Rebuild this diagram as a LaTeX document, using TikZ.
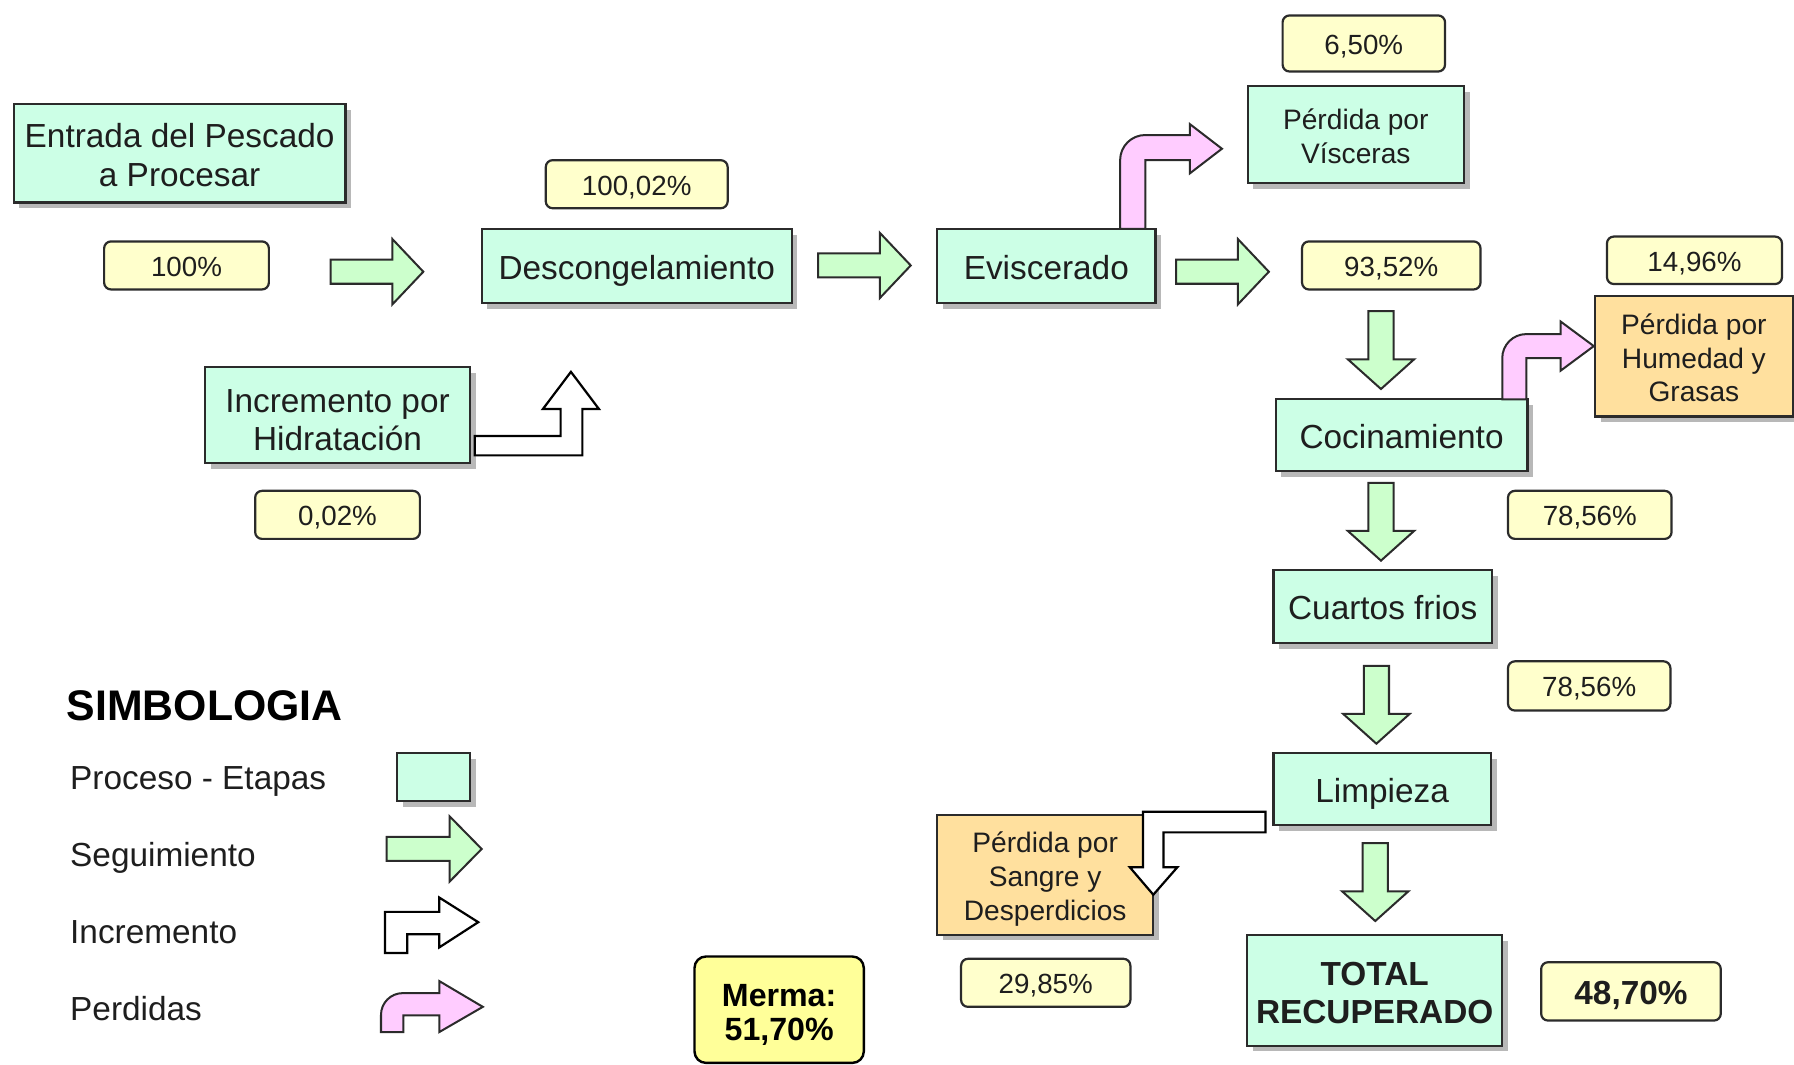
\documentclass[tikz,border=0pt]{standalone}
\usepackage{fontspec}
\setmainfont{Liberation Sans}
\usetikzlibrary{shadows}

\definecolor{mint}{HTML}{CCFFE6}
\definecolor{lblyellow}{HTML}{FFFFCC}
\definecolor{mermayellow}{HTML}{FFFF99}
\definecolor{flowgreen}{HTML}{CCFFCC}
\definecolor{losspink}{HTML}{FFCCFF}
\definecolor{lossorange}{HTML}{FFE09E}
\definecolor{edge}{HTML}{2B2B2B}
\definecolor{ink}{HTML}{1E1E1E}

\newcommand\txmain{\fontsize{16.6}{18.8}\selectfont}
\newcommand\txlbl{\fontsize{13.8}{16}\selectfont}
\newcommand\txloss{\fontsize{14}{16.8}\selectfont}
\newcommand\txbold{\fontsize{16.6}{18.8}\selectfont\bfseries}
% invisible strut that sets the height of a first text line
\newcommand\topline[1]{\rule{0pt}{#1}}

\tikzset{
  oneline/.style={text height=13.3pt, text depth=0pt},
  lblline/.style={text height=11pt, text depth=0pt},
  procbox/.style={rectangle, draw=edge, line width=1.1pt, fill=mint, text=ink,
    align=center, inner sep=0pt, font=\txmain,
    drop shadow={shadow xshift=0.1cm, shadow yshift=-0.1cm, fill=black!28, opacity=1}},
  lossbox/.style={procbox, fill=lossorange, font=\txloss},
  pctlabel/.style={rectangle, rounded corners=0.12cm, draw=edge, line width=1.1pt,
    fill=lblyellow, text=ink, inner sep=0pt, font=\txlbl, lblline},
  flowarrow/.style={draw=edge, line width=1pt, fill=flowgreen, line join=miter},
  losspath/.style={draw=edge, line width=1pt, fill=losspink, line join=miter},
  gainpath/.style={draw=black, line width=1.1pt, fill=white, line join=miter},
  legendtext/.style={anchor=west, inner sep=0pt, text=ink, font=\txmain, oneline},
  rblk/.pic={\path[flowarrow] (0,-10.5) -- (54,-10.5) -- (54,-28.5) -- (81,0)
      -- (54,28.5) -- (54,10.5) -- (0,10.5) -- cycle;},
  dblk/.pic={\path[flowarrow] (-11,0) -- (-11,42) -- (-29,42) -- (0,68)
      -- (29,42) -- (11,42) -- (11,0) -- cycle;}
}

\begin{document}
\begin{tikzpicture}[x=0.02cm, y=-0.02cm]
\useasboundingbox (0,0) rectangle (1568,930);

% ---- main process line ----
\node[procbox, minimum width=5.8cm, minimum height=1.72cm,
      font=\fontsize{16.6}{19.3}\selectfont] (entrada) at (157,134)
      {\topline{13.8pt}Entrada del Pescado\\a Procesar};
\node[pctlabel, minimum width=2.88cm, minimum height=0.84cm] (p100) at (163,232) {100\%};
\pic (a1) at (289,237.5) {rblk};

\node[pctlabel, minimum width=3.18cm, minimum height=0.84cm] (p10002) at (556.5,161) {100,02\%};
\node[procbox, oneline, minimum width=5.42cm, minimum height=1.3cm] (descong) at (556.5,232.5) {Descongelamiento};
\pic (a2) at (715,232) {rblk};

\node[procbox, oneline, minimum width=3.82cm, minimum height=1.3cm] (evis) at (914.5,232.5) {Eviscerado};
\pic (a3) at (1028,237.5) {rblk};

% ---- viscera loss ----
\node[pctlabel, minimum width=2.84cm, minimum height=0.98cm] (p650) at (1192,38) {6,50\%};
\node[procbox, font=\txloss, minimum width=3.78cm, minimum height=1.7cm]
      (visceras) at (1185,117.5) {\topline{12.1pt}Pérdida por\\Vísceras};
\draw[losspath] (979,200) [rounded corners=0.44cm] -- (979,118) [sharp corners]
  -- (1040,118) -- (1040,108.5) -- (1068,130) -- (1040,151.5) -- (1040,140)
  -- (1001,140) -- (1001,200) -- cycle;

% ---- right column ----
\node[pctlabel, minimum width=3.12cm, minimum height=0.84cm] (p9352) at (1216,232) {93,52\%};
\pic (d1) at (1207,272) {dblk};

\node[pctlabel, minimum width=3.06cm, minimum height=0.83cm] (p1496) at (1481,227.5) {14,96\%};
\node[lossbox, minimum width=3.46cm, minimum height=2.1cm] (humedad) at (1480.5,311.5)
      {\topline{11.9pt}Pérdida por\\Humedad y\\Grasas};

\node[procbox, oneline, minimum width=4.4cm, minimum height=1.26cm] (cocina) at (1225,380.5) {Cocinamiento};
\draw[losspath] (1313,349) [rounded corners=0.42cm] -- (1313,292) [sharp corners]
  -- (1364,292) -- (1364,281) -- (1393,302.5) -- (1364,324) -- (1364,313)
  -- (1334,313) -- (1334,349) -- cycle;

\pic (d2) at (1207,422) {dblk};
\node[pctlabel, minimum width=2.86cm, minimum height=0.84cm] (p7856a) at (1389.5,450) {78,56\%};

\node[procbox, oneline, minimum width=3.82cm, minimum height=1.28cm] (cuartos) at (1208.5,530) {Cuartos frios};
\pic (d3) at (1203,582) {dblk};
\node[pctlabel, minimum width=2.84cm, minimum height=0.86cm] (p7856b) at (1389,599.5) {78,56\%};

\node[procbox, oneline, minimum width=3.8cm, minimum height=1.26cm] (limpieza) at (1208,689.5) {Limpieza};
\pic (d4) at (1202,737) {dblk};

\node[lossbox, minimum width=3.78cm, minimum height=2.1cm] (sangre) at (913.5,764.5)
      {\topline{14.9pt}Pérdida por\\Sangre y\\Desperdicios};
\draw[gainpath] (1106,709.5) -- (999,709.5) -- (999,758) -- (987.5,758) -- (1008,782)
  -- (1029,758) -- (1017,758) -- (1017,727.5) -- (1106,727.5) -- cycle;
\node[pctlabel, minimum width=2.96cm, minimum height=0.84cm] (p2985) at (914,859) {29,85\%};

\node[procbox, font=\txbold, minimum width=4.46cm, minimum height=1.94cm]
      (total) at (1201.5,865.5) {\topline{14.2pt}TOTAL\\RECUPERADO};
\node[pctlabel, font=\txbold, oneline, minimum width=3.14cm, minimum height=1.02cm] (p4870) at (1425.5,866.5) {48,70\%};

% ---- hydration gain ----
\node[procbox, minimum width=4.64cm, minimum height=1.68cm] (increm) at (295,363)
      {\topline{16.1pt}Incremento por\\Hidratación};
\draw[gainpath] (415,398) -- (509,398) -- (509,357.5) -- (523.5,357.5) -- (499,325)
  -- (474.5,357.5) -- (490,357.5) -- (490,381) -- (415,381) -- cycle;
\node[pctlabel, minimum width=2.88cm, minimum height=0.84cm] (p002) at (295,450) {0,02\%};

% ---- shrinkage ----
\node[rectangle, rounded corners=0.2cm, draw=black, line width=1.2pt, fill=mermayellow,
      align=center, inner sep=0pt, font=\fontsize{16}{17}\selectfont\bfseries,
      minimum width=2.96cm, minimum height=1.86cm] (merma) at (681,882.5)
      {\topline{16.1pt}Merma:\\51,70\%};

% ---- legend ----
\node[anchor=west, inner sep=0pt, font=\fontsize{21.3}{24}\selectfont\bfseries] (simb) at (58,617) {SIMBOLOGIA};
\node[legendtext] (lproc) at (61,678) {Proceso - Etapas};
\node[procbox, minimum width=1.28cm, minimum height=0.84cm] (legbox) at (379,679) {};
\node[legendtext] (lseg) at (61,746) {Seguimiento};
\path[flowarrow] (338,731.5) -- (393,731.5) -- (393,713.5) -- (421,742) -- (393,770.5)
  -- (393,752.5) -- (338,752.5) -- cycle;
\node[legendtext] (linc) at (61,813) {Incremento};
\draw[gainpath] (336.5,833) -- (336.5,797) -- (384,797) -- (384,784.5) -- (418,806)
  -- (384,828) -- (384,816.5) -- (356,816.5) -- (356,833) -- cycle;
\node[legendtext] (lper) at (61,880) {Perdidas};
\draw[losspath] (333,902) [rounded corners=0.38cm] -- (333,868) [sharp corners]
  -- (384,868) -- (384,857.5) -- (422,880) -- (384,902) -- (384,887.5)
  -- (352.5,887.5) -- (352.5,902) -- cycle;
\end{tikzpicture}
\end{document}
